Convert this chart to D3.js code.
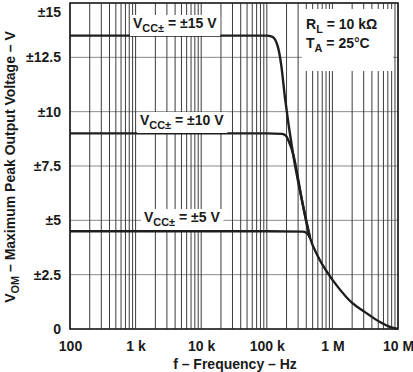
<!DOCTYPE html>
<html>
<head>
<meta charset="utf-8">
<script src="https://cdn.jsdelivr.net/npm/d3@7"></script>
<style>
  body { margin: 0; background: #fff; }
  text { font-family: "Liberation Sans", Arial, sans-serif; font-weight: bold; fill: #1a1a1a; }
</style>
</head>
<body>
<div id="chart"></div>
<script>
// frequency ticks + labels
var xTicks = [100, 1e3, 1e4, 1e5, 1e6, 1e7];
var xTickLabels = ["100", "1 k", "10 k", "100 k", "1 M", "10 M"];
var yTicks = [0, 2.5, 5, 7.5, 10, 12.5, 15];
var yTickLabels = ["0", "±2.5", "±5", "±7.5", "±10", "±12.5", "±15"];

// curves: [frequency Hz, volts]
var vcc15 = [[100, 13.5], [1e3, 13.5], [1e4, 13.5], [1e5, 13.5], [120e3, 13.45], [135e3, 13.3],
  [150e3, 12.9], [165e3, 12.2], [190e3, 10.6], [250e3, 8.1], [350e3, 5.8], [456e3, 4.2],
  [600e3, 3.35], [860e3, 2.55], [1.2e6, 1.95], [2e6, 1.2], [3e6, 0.82], [5.3e6, 0.32],
  [7.5e6, 0.1], [1e7, 0]];
var vcc10 = [[100, 9], [1e3, 9], [1e4, 9], [1e5, 9], [170e3, 8.98], [195e3, 8.9], [215e3, 8.65],
  [250e3, 8.1], [350e3, 5.8], [456e3, 4.2]];
var vcc5 = [[100, 4.5], [1e3, 4.5], [1e4, 4.5], [1e5, 4.5], [350e3, 4.48], [400e3, 4.43],
  [430e3, 4.33], [456e3, 4.2]];

var width = 413, height = 372;
var svg = d3.select("#chart").append("svg")
  .attr("width", width)
  .attr("height", height);

var x = d3.scaleLog().domain([100, 1e7]).range([70, 398]);
var y = d3.scaleLinear().domain([0, 15]).range([329, 3]);

// log grid, 1..9 in every decade
var minor = [];
for (var e = 2; e < 7; e++) {
  for (var k = 1; k < 10; k++) minor.push(k * Math.pow(10, e));
}
minor.push(1e7);

svg.append("g").selectAll("line")
  .data(yTicks)
  .enter().append("line")
  .attr("x1", x(100)).attr("x2", x(1e7))
  .attr("y1", d => y(d)).attr("y2", d => y(d))
  .attr("stroke", "#8a8a8a")
  .attr("stroke-width", 1);

svg.append("g").selectAll("line")
  .data(minor)
  .enter().append("line")
  .attr("x1", d => x(d)).attr("x2", d => x(d))
  .attr("y1", y(0)).attr("y2", y(15))
  .attr("stroke", "#3c3c3c")
  .attr("stroke-width", 1);

// white box behind the conditions
svg.append("rect")
  .attr("x", 302).attr("y", 9)
  .attr("width", 91).attr("height", 62)
  .attr("fill", "#fff");

// frame
svg.append("rect")
  .attr("x", x(100)).attr("y", y(15))
  .attr("width", x(1e7) - x(100)).attr("height", y(0) - y(15))
  .attr("fill", "none")
  .attr("stroke", "#222")
  .attr("stroke-width", 1.6);

// the curves
var line = d3.line()
  .x(d => x(d[0]))
  .y(d => y(d[1]))
  .curve(d3.curveMonotoneX);

[vcc15, vcc10, vcc5].forEach(s => {
  svg.append("path")
    .datum(s)
    .attr("d", line)
    .attr("fill", "none")
    .attr("stroke", "#1e1e1e")
    .attr("stroke-width", 2.4);
});

// axes, just labels no tick marks
var xAxis = d3.axisBottom(x)
  .tickValues(xTicks)
  .tickSize(0)
  .tickPadding(12)
  .tickFormat((d, i) => xTickLabels[i]);
var gx = svg.append("g")
  .attr("transform", "translate(0," + y(0) + ")")
  .call(xAxis);
gx.select(".domain").remove();
gx.selectAll("text")
  .attr("font-size", 14)
  .attr("font-family", "Liberation Sans, Arial, sans-serif")
  .attr("font-weight", "bold")
  .attr("fill", "#1a1a1a");

var yAxis = d3.axisLeft(y)
  .tickValues(yTicks)
  .tickSize(0)
  .tickPadding(9)
  .tickFormat((d, i) => yTickLabels[i]);
var gy = svg.append("g")
  .attr("transform", "translate(" + x(100) + ",0)")
  .call(yAxis);
gy.select(".domain").remove();
gy.selectAll("text")
  .attr("font-size", 14)
  .attr("font-family", "Liberation Sans, Arial, sans-serif")
  .attr("font-weight", "bold")
  .attr("fill", "#1a1a1a");
// top label would get clipped
gy.selectAll(".tick").filter(d => d == 15).select("text").attr("dy", "0.95em");

// label with a subscript
function subLabel(g, px, py, main, sub, rest, size) {
  var t = g.append("text")
    .attr("x", px).attr("y", py)
    .attr("font-size", size);
  t.append("tspan").text(main);
  t.append("tspan").attr("dy", 4).attr("font-size", size * 0.78).text(sub);
  t.append("tspan").attr("dy", -4).text(rest);
  return t;
}

var vLabels = [
  { x: 133, y: 28, rest: " = ±15 V" },
  { x: 140, y: 125, rest: " = ±10 V" },
  { x: 144, y: 222, rest: " = ±5 V" }
];
vLabels.forEach(l => {
  var g = svg.append("g");
  var t = subLabel(g, l.x, l.y, "V", "CC±", l.rest, 14);
  var b = t.node().getBBox();
  g.insert("rect", "text")
    .attr("x", b.x - 3).attr("y", b.y)
    .attr("width", b.width + 6).attr("height", b.height + 2)
    .attr("fill", "#fff");
});

subLabel(svg, 306, 29, "R", "L", " = 10 kΩ", 14);
subLabel(svg, 306, 48, "T", "A", " = 25°C", 14);

// titles
svg.append("text")
  .attr("x", 235).attr("y", 369)
  .attr("text-anchor", "middle")
  .attr("font-size", 14)
  .text("f – Frequency – Hz");

var yt = subLabel(svg, 0, 0, "V", "OM", " – Maximum Peak Output Voltage – V", 14);
yt.attr("text-anchor", "middle")
  .attr("transform", "translate(15,167) rotate(-90)");
</script>
</body>
</html>
